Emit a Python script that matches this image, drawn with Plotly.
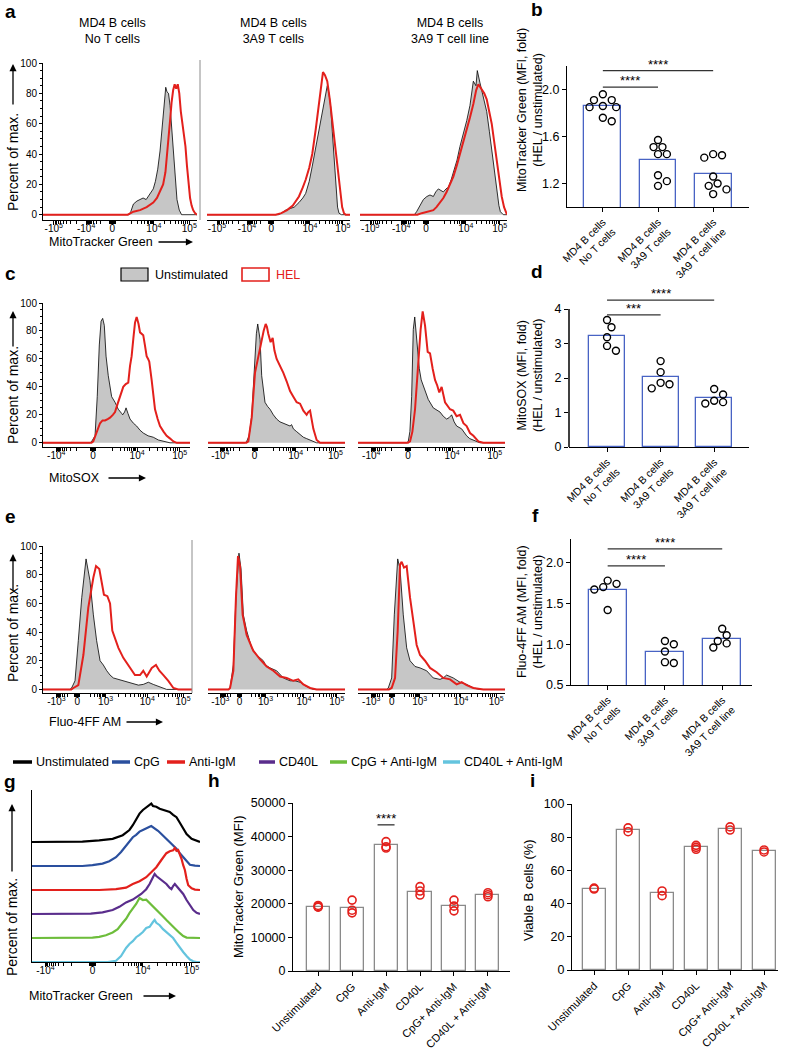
import math
import plotly.graph_objects as go

W, H = 788, 1050
FONT = "Liberation Sans, Arial, sans-serif"
RED = "#e3201c"
GRAY_FILL = "#c6c6c6"
BAR_BLUE = "#4863c4"
BAR_GRAY = "#8a8a8a"

# ---------------- histogram data: (channel, percent of max) ----------------
A_TICKS = [7, 28, 45, 72, 95]
A_LABELS = ["-10<sup>5</sup>", "-10<sup>4</sup>", "0", "10<sup>4</sup>", "10<sup>5</sup>"]
C_TICKS = [9, 34, 64, 93]
C_LABELS = ["-10<sup>4</sup>", "0", "10<sup>4</sup>", "10<sup>5</sup>"]
E_TICKS = [9, 23, 42, 70, 94]
E_LABELS = ["-10<sup>3</sup>", "0", "10<sup>3</sup>", "10<sup>4</sup>", "10<sup>5</sup>"]
G_TICKS = [8, 36, 66, 95]
G_LABELS = ["-10<sup>4</sup>", "0", "10<sup>4</sup>", "10<sup>5</sup>"]

A1_UNSTIM = [(0, 0), (56, 0), (57, 2), (58.7, 7), (61, 9), (63, 10), (65, 11), (67, 10), (69, 13), (71.6, 17),
             (73, 22), (74.5, 30), (76, 42), (77.5, 60), (78.5, 75), (79.7, 84), (80.5, 81), (81.5, 80),
             (82.5, 72), (84, 50), (85.5, 28), (87, 10), (88.5, 3), (90, 0), (100, 0)]
A1_HEL = [(0, 0), (55, 0), (58.7, 2), (63, 3), (67.3, 5), (71.6, 8), (74, 11), (76, 15), (78, 20), (79.5, 28),
          (80.5, 38), (81.5, 50), (82.5, 62), (83.5, 74), (84.5, 82), (85.5, 86), (86.5, 83), (87.5, 86),
          (88.5, 80), (89.5, 68), (90.5, 60), (91.5, 55), (92.5, 45), (93.5, 32), (94.5, 20), (95.5, 11),
          (96.5, 6), (97.5, 3), (98.7, 1), (100, 0)]
A2_UNSTIM = [(0, 0), (50, 0), (52, 1), (55, 3), (58, 4), (61, 5), (64.3, 8), (67, 11), (69, 14), (71.5, 22),
             (73.6, 32), (76, 44), (78.3, 56), (80, 66), (81.8, 75), (83, 80), (84.1, 85), (85.3, 80),
             (86.5, 71), (87.6, 55), (88.8, 38), (90.4, 14), (91.3, 5), (92.3, 1), (94, 0), (100, 0)]
A2_HEL = [(0, 0), (48, 0), (52, 1), (56, 3), (60, 6), (64.3, 12), (67, 18), (69, 23), (71.5, 31), (73.6, 40),
          (76, 56), (78.3, 75), (80, 87), (81.1, 94), (82.5, 92), (84.1, 88), (86, 75), (87.6, 62), (89.5, 45),
          (91.1, 32), (92.3, 20), (93.5, 12), (94.5, 5), (95.8, 1), (97, 0), (100, 0)]
A3_UNSTIM = [(0, 0), (37, 0), (38.5, 2), (41, 6), (43.1, 10), (45.5, 12), (47.6, 13), (49.9, 12), (51.5, 15),
             (53.3, 17), (55, 16), (56.7, 15), (58.5, 17), (60.1, 18), (62, 23), (63.5, 28), (66, 36), (68, 45),
             (70.5, 54), (72.6, 62), (74.8, 72), (77.1, 88), (78.9, 85), (79.8, 95), (81.6, 87), (83.9, 78),
             (86.2, 68), (88, 55), (89.6, 42), (91.3, 28), (93, 15), (94.5, 6), (95.5, 2), (97.5, 0), (100, 0)]
A3_HEL = [(0, 0), (39, 0), (42, 1), (46, 2), (49.9, 3), (52, 5), (54.4, 8), (56.7, 11), (58.9, 15), (61, 20),
          (63.5, 25), (66, 33), (68, 40), (70.5, 48), (72.6, 55), (74.8, 64), (77.1, 73), (79, 82), (80.5, 86),
          (82.8, 82), (84.5, 80), (86.2, 76), (88, 68), (89.6, 60), (91.3, 48), (93, 35), (94.8, 22),
          (96.4, 12), (98, 5), (99.5, 1), (100, 0)]

C1_UNSTIM = [(0, 0), (32, 0), (33.1, 1), (35.4, 5), (36.9, 33), (38.3, 70), (39.5, 87), (40.6, 89), (41.7, 84),
             (42.9, 62), (44.4, 48), (46.7, 33), (49, 29), (51.2, 24), (53.5, 21), (54.2, 20), (55.5, 22),
             (56.5, 25), (57.8, 21), (59.2, 17), (61.5, 14), (63.7, 12), (66, 9), (68.2, 7), (71.5, 5), (75, 4),
             (78.5, 2), (81.9, 1), (86.4, 0), (100, 0)]
C1_HEL = [(0, 0), (33, 0), (34.2, 1), (36.5, 7), (38.8, 14), (40.5, 16), (42.2, 16), (44, 17), (45.6, 18),
          (47.5, 20), (49, 22), (50.8, 28), (52.4, 33), (54.6, 40), (56.3, 42), (58, 43), (59.2, 55), (60.3, 62),
          (61.5, 75), (62.6, 86), (63.7, 90), (65, 85), (66, 79), (67, 78), (68.2, 77), (69.3, 70), (70.5, 62),
          (71.5, 60), (72.3, 58), (73.9, 45), (75, 35), (76.2, 24), (78, 17), (79.6, 12), (82, 8), (84.1, 5),
          (86.5, 3), (88.7, 1), (91, 0), (100, 0)]
C2_UNSTIM = [(0, 0), (27, 0), (28.2, 1), (30, 5), (31.9, 19), (33.2, 45), (34.3, 62), (35.3, 78), (36.3, 85),
             (37.2, 80), (38, 74), (39.2, 48), (40.4, 36), (41.6, 29), (43.5, 26), (45.3, 24), (47.7, 20),
             (50.1, 17), (52.5, 15), (55, 14), (57.5, 13), (59.9, 12), (61, 13), (62.3, 10), (64.7, 8), (67.2, 6),
             (69.6, 4), (72, 3), (74.5, 2), (76.9, 1), (79.3, 0), (100, 0)]
C2_HEL = [(0, 0), (28, 0), (29.4, 1), (31.9, 18), (34.3, 50), (36.7, 62), (39.2, 74), (40.6, 80), (42.1, 85),
          (43, 83), (44, 78), (45.7, 72), (47.2, 75), (48.5, 66), (50.1, 60), (52.6, 55), (55, 50), (57.4, 44),
          (59.9, 37), (62.3, 33), (64.7, 29), (67.2, 28), (69.6, 23), (72, 20), (73.2, 22), (74.5, 23),
          (75.5, 16), (76.9, 10), (79.3, 2), (81.8, 0), (100, 0)]
C3_UNSTIM = [(0, 0), (33, 0), (34.2, 1), (35.3, 8), (36.5, 33), (37.6, 81), (38.6, 90), (39.9, 74), (41.7, 53),
             (43, 45), (44.4, 41), (47.8, 31), (51.2, 25), (55.8, 22), (58, 19), (60.3, 17), (62, 18), (63.7, 20),
             (65.4, 15), (67.1, 12), (70.5, 10), (73.9, 5), (76, 3), (78.5, 2), (83, 0), (100, 0)]
C3_HEL = [(0, 0), (34, 0), (35.4, 1), (37, 8), (38.8, 24), (41, 57), (42.6, 81), (44, 94), (45.6, 84),
          (47.4, 65), (49, 64), (50.8, 53), (52.4, 45), (53.9, 41), (55.3, 36), (56.9, 40), (58, 35), (59.2, 29),
          (62.6, 24), (64.8, 23), (67.1, 19), (69.4, 20), (71.7, 14), (73.9, 12), (76.2, 7), (78.5, 5),
          (81.9, 1), (85.2, 0), (100, 0)]

E1_UNSTIM = [(0, 0), (18, 0), (19.2, 1), (21.5, 6), (23.7, 34), (26, 64), (28.9, 91), (31.5, 76), (33.8, 52),
             (36, 34), (38.3, 20), (40.5, 17), (42.8, 13), (45, 10), (47.2, 8), (53.9, 6), (60.6, 4), (64, 3),
             (67.3, 3.5), (70.7, 5), (74, 3.5), (78.5, 2), (83, 0), (100, 0)]
E1_HEL = [(0, 0), (19, 0), (20.4, 1), (23.7, 3), (27.1, 24), (30.4, 57), (33.8, 78), (35.6, 86), (37.8, 84),
          (39.4, 73), (40.9, 66), (43.2, 65), (45, 60), (46.5, 41), (49, 34), (50.6, 29), (53.9, 22), (57.3, 17),
          (59.5, 13), (61.7, 10), (65.1, 10), (67.3, 13), (69.6, 9), (73, 15), (75.8, 17), (78.1, 13),
          (80.8, 10), (84.1, 6), (87.5, 1), (90.8, 0), (100, 0)]
E2_UNSTIM = [(0, 0), (15, 0), (16.1, 1), (18.5, 17), (20.4, 64), (22.6, 95), (24.1, 84), (25.8, 52), (28.2, 41),
             (31.9, 29), (35.5, 24), (40.4, 20), (42, 17), (45.3, 15), (50.1, 13), (55, 8), (59.9, 6),
             (63.5, 6), (67.2, 5), (72, 2), (76.9, 0), (100, 0)]
E2_HEL = [(0, 0), (15, 0), (16.1, 1), (18.5, 13), (20.4, 64), (21.9, 93), (23.4, 86), (25.3, 52), (28.2, 38),
          (33, 27), (38, 21), (42.8, 16), (47.7, 13), (52.6, 9), (57.4, 8), (62.3, 6), (65.9, 7), (69.6, 3.5),
          (74.5, 1), (79.3, 0), (100, 0)]
E3_UNSTIM = [(0, 0), (19.5, 0), (20.6, 1), (22.9, 8), (24.7, 52), (27, 91), (28.6, 84), (30.8, 52), (33.1, 29),
             (35.4, 20), (38.8, 16), (42.2, 15), (46.7, 13), (51.2, 8), (55.8, 7), (58, 8), (60.3, 10),
             (62.5, 9), (64.8, 8), (69.4, 5), (73.9, 3.5), (78.5, 1), (83, 0), (100, 0)]
E3_HEL = [(0, 0), (21, 0), (22.9, 1), (25.2, 8), (27, 41), (28.6, 87), (29.7, 89), (31.3, 85), (33.1, 86),
          (35.4, 64), (37.6, 48), (39.9, 31), (42.2, 24), (45.6, 20), (49, 15), (53.5, 12), (58, 8), (62.6, 7),
          (67.1, 3.5), (70.5, 5), (73.9, 3), (78.5, 1), (85.2, 0), (100, 0)]

G_NAMES = ["Unstimulated", "CpG", "Anti-IgM", "CD40L", "CpG + Anti-IgM", "CD40L + Anti-IgM"]
G_COLORS = ["#000000", "#2a4f9e", "#e3201c", "#5a2d8c", "#6dbd3b", "#64c4de"]
G_UNSTIM = [(0, 0), (30, 1), (40, 4), (48, 8), (54, 17), (58, 30), (60, 42), (62, 58), (64, 71), (66, 80),
            (68, 86), (70, 92), (71, 96), (72, 90), (74, 88), (76, 83), (78, 80), (80, 78), (82, 75), (84, 68),
            (86, 62), (88, 48), (90, 33), (92, 20), (95, 8), (98, 2), (100, 0)]
G_CPG = [(0, 0), (30, 0), (36, 2), (42, 6), (46, 12), (50, 22), (53, 35), (56, 52), (58, 62), (60, 72), (62, 78),
         (64, 86), (66, 90), (68, 95), (70, 98), (71, 100), (73, 95), (75, 88), (77, 80), (80, 68), (82, 60),
         (84, 52), (86, 43), (88, 32), (90, 22), (92, 12), (94, 3), (97, 1), (100, 0)]
G_ANTI = [(0, 0), (40, 0), (50, 2), (56, 6), (60, 15), (64, 22), (68, 32), (71, 45), (74, 57), (77, 75),
          (80, 92), (82, 97), (84, 99), (85, 105), (86, 98), (87, 100), (88, 90), (89, 78), (90, 62), (91, 50),
          (92, 28), (93, 12), (95, 4), (97, 1), (100, 0)]
G_CD40L = [(0, 0), (35, 1), (42, 4), (48, 10), (52, 18), (56, 29), (60, 36), (62, 42), (65, 50), (68, 62),
           (70, 75), (72, 92), (73, 100), (74, 95), (76, 88), (78, 83), (80, 75), (82, 65), (83, 62), (84, 70),
           (85, 75), (86, 70), (88, 60), (90, 50), (92, 35), (94, 21), (96, 10), (98, 3), (100, 0)]
G_CPG_ANTI = [(0, 0), (36, 1), (40, 3), (44, 7), (48, 14), (51, 22), (54, 38), (56, 48), (58, 62), (60, 73),
              (62, 85), (64, 100), (66, 95), (68, 96), (70, 88), (72, 78), (74, 70), (76, 62), (78, 54),
              (80, 45), (82, 36), (84, 29), (86, 20), (88, 12), (90, 5), (92, 1), (95, 0), (100, 0)]
G_CD40L_ANTI = [(0, 0), (45, 0), (50, 3), (53, 15), (56, 35), (58, 45), (60, 52), (62, 62), (64, 68), (66, 75),
                (68, 85), (70, 88), (72, 100), (73, 105), (74, 98), (76, 92), (78, 82), (80, 75), (82, 68),
                (84, 60), (86, 48), (88, 35), (90, 25), (92, 15), (94, 6), (96, 2), (98, 0), (100, 0)]
G_CURVES = [G_UNSTIM, G_CPG, G_ANTI, G_CD40L, G_CPG_ANTI, G_CD40L_ANTI]

# ---------------- bar chart data ----------------
T_CATS = ["MD4 B cells<br>No T cells", "MD4 B cells<br>3A9 T cells", "MD4 B cells<br>3A9 T cell line"]
B_MEANS = [1.86, 1.40, 1.28]
B_POINTS = [[1.91, 1.96, 1.91, 1.85, 1.85, 1.86, 1.73, 1.76],
            [1.51, 1.57, 1.51, 1.45, 1.45, 1.27, 1.18, 1.22],
            [1.45, 1.42, 1.44, 1.26, 1.18, 1.20, 1.11, 1.15]]
B_SIG = [(0, 2, 2.16, "****"), (0, 1, 2.02, "****")]
D_MEANS = [3.22, 2.03, 1.43]
D_POINTS = [[3.47, 3.68, 3.18, 2.93, 2.79], [2.49, 2.17, 1.86, 1.82, 1.70], [1.68, 1.52, 1.34, 1.26, 1.30]]
D_SIG = [(0, 2, 4.26, "****"), (0, 1, 3.83, "***")]
F_MEANS = [1.66, 0.90, 1.07]
F_POINTS = [[1.78, 1.70, 1.67, 1.74, 1.42], [1.00, 1.04, 0.91, 0.77, 0.78], [1.19, 1.11, 1.04, 1.01, 0.96]]
F_SIG = [(0, 2, 2.17, "****"), (0, 1, 1.96, "****")]

S_CATS = ["Unstimulated", "CpG", "Anti-IgM", "CD40L", "CpG+ Anti-IgM", "CD40L + Anti-IgM"]
H_MEANS = [19100, 18900, 37400, 23500, 19300, 22700]
H_POINTS = [[19500, 19000, 19100], [21100, 18100, 17300], [38500, 37000, 36600],
            [25100, 23800, 22600], [21100, 19300, 17900], [23300, 22700, 22100]]
H_SIG = [(1.75, 2.25, 43500, "****")]
I_MEANS = [49.0, 84.4, 46.2, 73.9, 85.2, 71.7]
I_POINTS = [[49.3, 48.8], [85.6, 83.3], [47.6, 44.8], [75.1, 73.9, 72.7], [86.2, 84.3], [72.3, 71.1]]

fig = go.Figure()
axes = {}
anns = []
shapes = []
count = [0]


def add_axes(xd, yd, xkw, ykw):
    count[0] += 1
    s = "" if count[0] == 1 else str(count[0])
    axes["xaxis" + s] = dict(domain=[xd[0] / W, xd[1] / W], anchor="y" + s, automargin=False, **xkw)
    axes["yaxis" + s] = dict(domain=[1 - yd[1] / H, 1 - yd[0] / H], anchor="x" + s, automargin=False, **ykw)
    return "x" + s, "y" + s


def text(x, y, s, size=11, color="black", bold=False, angle=0, xanchor="center", yanchor="middle"):
    if bold:
        s = "<b>" + s + "</b>"
    anns.append(dict(xref="paper", yref="paper", x=x / W, y=1 - y / H, text=s, showarrow=False,
                     font=dict(size=size, color=color, family=FONT), textangle=angle,
                     xanchor=xanchor, yanchor=yanchor))


def arrow(hx, hy, tx, ty):
    anns.append(dict(xref="paper", yref="paper", x=hx / W, y=1 - hy / H, ax=tx - hx, ay=ty - hy,
                     text="", showarrow=True, arrowhead=2, arrowsize=1.1, arrowwidth=1.3, arrowcolor="black"))


def biex_minor(ticks, zero_idx):
    logs = [math.log10(m) for m in range(2, 10)]
    z = ticks[zero_idx]
    out = [z + s * k for k in (0.6, 1.2, 1.8) for s in (-1, 1)]
    for i in range(len(ticks) - 1):
        a, b = ticks[i], ticks[i + 1]
        if i > zero_idx:
            out += [a + l * (b - a) for l in logs]
        elif i < zero_idx - 1:
            out += [b - l * (b - a) for l in logs]
        elif i == zero_idx:
            out += [a + (b - a) * (0.45 + 0.55 * l) for l in [0] + logs]
        else:
            out += [b - (b - a) * (0.45 + 0.55 * l) for l in [0] + logs]
    return sorted(out)


def hist_xaxis(ticks, labels, zero_idx):
    return dict(range=[0, 100], tickmode="array", tickvals=ticks, ticktext=labels, ticks="outside",
                ticklen=4, tickwidth=1, tickcolor="black", showline=True, linecolor="black", linewidth=1,
                showgrid=False, zeroline=False, tickfont=dict(size=10), ticklabelstandoff=-5,
                minor=dict(tickmode="array", tickvals=biex_minor(ticks, zero_idx), ticks="outside",
                           ticklen=2.5, tickwidth=0.8, tickcolor="black", showgrid=False))


def hist_yaxis(ymin, show):
    if not show:
        return dict(range=[ymin, 100], visible=False)
    return dict(range=[ymin, 100], tickmode="array", tickvals=[0, 20, 40, 60, 80, 100], ticks="outside",
                ticklen=3, tickcolor="black", showline=True, linecolor="black", linewidth=1, showgrid=False,
                zeroline=False, tickfont=dict(size=10),
                minor=dict(dtick=5, tick0=0, ticks="outside", ticklen=2, tickcolor="black", showgrid=False))


HIST_ROWS = [
    (A_TICKS, A_LABELS, 2, [(43, 197), (207, 350), (360, 507)], (63, 220), -3.5,
     [(A1_UNSTIM, A1_HEL), (A2_UNSTIM, A2_HEL), (A3_UNSTIM, A3_HEL)]),
    (C_TICKS, C_LABELS, 1, [(43, 190), (208, 345), (358, 505)], (303, 447), -3.0,
     [(C1_UNSTIM, C1_HEL), (C2_UNSTIM, C2_HEL), (C3_UNSTIM, C3_HEL)]),
    (E_TICKS, E_LABELS, 1, [(43, 192), (208, 345), (358, 505)], (546, 693), -2.5,
     [(E1_UNSTIM, E1_HEL), (E2_UNSTIM, E2_HEL), (E3_UNSTIM, E3_HEL)]),
]

for ticks, labels, zi, xdoms, ydom, ymin, curves in HIST_ROWS:
    for j, (xd, (unstim, hel)) in enumerate(zip(xdoms, curves)):
        xa, ya = add_axes(xd, ydom, hist_xaxis(ticks, labels, zi), hist_yaxis(ymin, j == 0))
        ux, uy = zip(*unstim)
        hx, hy = zip(*hel)
        fig.add_trace(go.Scatter(x=ux, y=uy, mode="lines", fill="tozeroy", fillcolor=GRAY_FILL,
                                 line=dict(color="black", width=0.8), xaxis=xa, yaxis=ya))
        fig.add_trace(go.Scatter(x=hx, y=hy, mode="lines", line=dict(color=RED, width=2),
                                 xaxis=xa, yaxis=ya))

# panel g: offset histograms
G_STEP = 60
xa, ya = add_axes((32, 200), (790, 962), hist_xaxis(G_TICKS, G_LABELS, 1),
                  dict(range=[0, 430], showline=True, linecolor="black", linewidth=1, showticklabels=False,
                       ticks="", showgrid=False, zeroline=False))
for k, (curve, col) in enumerate(zip(G_CURVES, G_COLORS)):
    gx, gy = zip(*curve)
    off = (len(G_CURVES) - 1 - k) * G_STEP
    fig.add_trace(go.Scatter(x=gx, y=[v + off for v in gy], mode="lines", line=dict(color=col, width=2.2),
                             xaxis=xa, yaxis=ya))


def swarm(vals, ypx, xpx, d=7.4):
    placed, offs = [], [0.0] * len(vals)
    for i in sorted(range(len(vals)), key=lambda n: -vals[n]):
        y = vals[i] * ypx
        cands = [0.0]
        for k in range(1, 12):
            cands += [k * d * 0.6, -k * d * 0.6]
        for c in cands:
            if all(math.hypot(c - px, y - py) >= d for px, py in placed):
                placed.append((c, y))
                offs[i] = c / xpx
                break
    return offs


def bar_panel(xd, yd, xr, yr, yticks, ytext, cats, means, points, sigs, edge, pcolor, cat_size,
              width, use_swarm, axis_top=None):
    ykw = dict(range=yr, tickmode="array", tickvals=yticks, ticktext=ytext, ticks="outside", ticklen=4,
               tickcolor="black", showline=axis_top is None, linecolor="black", linewidth=1, showgrid=False,
               zeroline=False, tickfont=dict(size=12.5))
    xkw = dict(range=xr, tickmode="array", tickvals=list(range(len(cats))), ticktext=cats, tickangle=-45,
               ticks="outside", ticklen=4, tickcolor="black", showline=True, linecolor="black", linewidth=1,
               showgrid=False, zeroline=False, tickfont=dict(size=cat_size))
    xa, ya = add_axes(xd, yd, xkw, ykw)
    fig.add_trace(go.Bar(x=list(range(len(cats))), y=means, width=width,
                         marker=dict(color="white", line=dict(color=edge, width=1.3)), xaxis=xa, yaxis=ya))
    ypx = (yd[1] - yd[0]) / (yr[1] - yr[0])
    xpx = (xd[1] - xd[0]) / (xr[1] - xr[0])
    px, py = [], []
    for i, pts in enumerate(points):
        offs = swarm(pts, ypx, xpx) if use_swarm else [0.0] * len(pts)
        px += [i + o for o in offs]
        py += pts
    size, lw = (7, 1.4) if use_swarm else (8, 1.6)
    fig.add_trace(go.Scatter(x=px, y=py, mode="markers", xaxis=xa, yaxis=ya, cliponaxis=False,
                             marker=dict(symbol="circle-open", size=size, color=pcolor, line=dict(width=lw))))
    for x0, x1, yv, star in sigs:
        shapes.append(dict(type="line", xref=xa, yref=ya, x0=x0, x1=x1, y0=yv, y1=yv,
                           line=dict(color="#333333", width=1.3)))
        anns.append(dict(xref=xa, yref=ya, x=(x0 + x1) / 2, y=yv, text=star, showarrow=False,
                         yanchor="bottom", yshift=-3, font=dict(size=13, family=FONT, color="black")))
    if axis_top is not None:
        axid = xa[1:]
        shapes.append(dict(type="line", xref="x%s domain" % axid, yref=ya, x0=0, x1=0, y0=yr[0], y1=axis_top,
                           line=dict(color="black", width=1.5)))


bar_panel((567, 749), (66, 207), [-0.65, 2.65], [1.0, 2.2], [1.2, 1.6, 2.0], ["1.2", "1.6", "2.0"],
          T_CATS, B_MEANS, B_POINTS, B_SIG, BAR_BLUE, "black", 10.5, 0.67, True)
bar_panel((569, 749), (297, 447), [-0.71, 2.65], [0, 4.348], [0, 1, 2, 3, 4], ["0", "1", "2", "3", "4"],
          T_CATS, D_MEANS, D_POINTS, D_SIG, BAR_BLUE, "black", 10.5, 0.67, True, axis_top=4)
bar_panel((571, 752), (539, 685), [-0.64, 2.52], [0.5, 2.29], [0.5, 1.0, 1.5, 2.0], ["0.5", "1.0", "1.5", "2.0"],
          T_CATS, F_MEANS, F_POINTS, F_SIG, BAR_BLUE, "black", 10.5, 0.66, True)
bar_panel((293, 510), (803, 971), [-0.74, 5.65], [0, 50000], [0, 10000, 20000, 30000, 40000, 50000],
          ["0", "10000", "20000", "30000", "40000", "50000"],
          S_CATS, H_MEANS, H_POINTS, H_SIG, BAR_GRAY, RED, 11, 0.68, False)
bar_panel((572, 778), (804, 970), [-0.65, 5.41], [0, 100], [0, 20, 40, 60, 80, 100],
          ["0", "20", "40", "60", "80", "100"],
          S_CATS, I_MEANS, I_POINTS, [], BAR_GRAY, RED, 11, 0.68, False)

# ---------------- text, legends, decorations ----------------
for lab, x, y in [("a", 10, 11), ("b", 537, 10), ("c", 10, 273), ("d", 537, 271), ("e", 10, 516),
                  ("f", 535, 515), ("g", 10, 781), ("h", 214, 780), ("i", 532, 780)]:
    text(x, y, lab, size=19, bold=True)

for x, t in [(112, "MD4 B cells<br>No T cells"), (273, "MD4 B cells<br>3A9 T cells"),
             (450, "MD4 B cells<br>3A9 T cell line")]:
    text(x, 31, t, size=12.5)

# x-axis titles with arrows
for x0, y, t, a0, a1 in [(47, 242, "MitoTracker Green", 157, 193), (47, 478, "MitoSOX", 107, 146),
                         (47, 722, "Fluo-4FF AM", 125, 163), (27, 996, "MitoTracker Green", 142, 176)]:
    text(x0, y, t, size=12.5, xanchor="left")
    arrow(a1, y, a0, y)

# y-axis titles with arrows
for x, cy, ah, at in [(13, 162, 64, 106), (13, 395, 311, 348), (13, 633, 554, 592), (12, 927, 804, 873)]:
    text(x, cy, "Percent of max.", size=14, angle=-90)
    arrow(x, ah, x, at)

text(530, 110, "MitoTracker Green (MFI, fold)<br>(HEL / unstimulated)", size=12.5, angle=-90)
text(530, 376, "MitoSOX (MFI, fold)<br>(HEL / unstimulated)", size=12.5, angle=-90)
text(530, 612, "Fluo-4FF AM (MFI, fold)<br>(HEL / unstimulated)", size=12.5, angle=-90)
text(238, 887, "MitoTracker Green (MFI)", size=13, angle=-90)
text(528, 890, "Viable B cells (%)", size=13, angle=-90)

# thin gray frame lines on the first histogram of rows a and e
for x, y0, y1 in [(200, 60, 220), (192, 540, 693)]:
    shapes.append(dict(type="line", xref="paper", yref="paper", x0=x / W, x1=x / W, y0=1 - y0 / H,
                       y1=1 - y1 / H, line=dict(color="#8c8c8c", width=1)))

# legend for c/e
shapes.append(dict(type="rect", xref="paper", yref="paper", x0=121 / W, x1=148 / W, y0=1 - 281 / H,
                   y1=1 - 268 / H, fillcolor=GRAY_FILL, line=dict(color="black", width=1.2)))
text(153, 274.5, "Unstimulated", size=12.5, xanchor="left")
shapes.append(dict(type="rect", xref="paper", yref="paper", x0=242 / W, x1=269 / W, y0=1 - 281 / H,
                   y1=1 - 268 / H, fillcolor="white", line=dict(color=RED, width=1.6)))
text(274, 274.5, "HEL", size=12.5, color=RED, xanchor="left")

# legend for g
for name, col, lx0, lx1 in zip(G_NAMES, G_COLORS, [13, 112, 167, 259, 330, 443], [32, 130, 185, 275, 347, 460]):
    shapes.append(dict(type="line", xref="paper", yref="paper", x0=lx0 / W, x1=lx1 / W, y0=1 - 762 / H,
                       y1=1 - 762 / H, line=dict(color=col, width=3.5)))
    text(lx1 + 2, 762, name, size=12.5, xanchor="left")

fig.update_layout(template="none", width=W, height=H,
                  margin=dict(l=0, r=0, t=0, b=0, pad=0, autoexpand=False), showlegend=False,
                  plot_bgcolor="white", paper_bgcolor="white", bargap=0,
                  font=dict(family=FONT, size=11, color="black"), annotations=anns, shapes=shapes, **axes)
fig.write_html("out.html", config={"displayModeBar": False},
               post_script="document.body.style.margin='0';document.body.style.overflow='hidden';")
